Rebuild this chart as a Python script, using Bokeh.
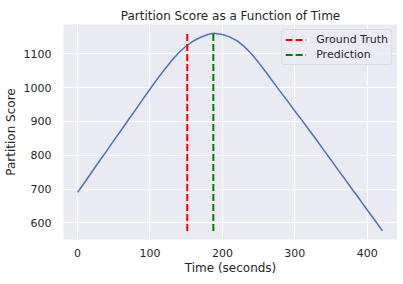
from bokeh.plotting import figure
from bokeh.models import Range1d, FixedTicker
from bokeh.embed import file_html
from bokeh.resources import INLINE

# ---- data ----
time_s = [0, 10, 20, 30, 40, 50, 60, 70, 80, 90, 100, 110, 120, 130, 140, 150,
          160, 170, 180, 188, 200, 210, 220, 230, 240, 250, 260, 270, 280, 290,
          300, 310, 320, 330, 340, 350, 360, 370, 380, 390, 400, 410, 421]
score = [690, 720, 751, 782, 812, 843, 873, 904, 934, 965, 995, 1025, 1053, 1080,
         1104, 1123, 1138, 1149, 1157, 1161, 1157, 1150, 1139, 1122, 1100, 1074,
         1046, 1017, 988, 960, 931, 903, 874, 845, 815, 786, 756, 727, 697, 668,
         638, 609, 576]
ground_truth_time = 151.5
prediction_time = 187.5

x_ticks = [0, 100, 200, 300, 400]
y_ticks = [600, 700, 800, 900, 1000, 1100]

title_text = "Partition Score as a Function of Time"
x_label = "Time (seconds)"
y_label = "Partition Score"

TEXT = "#262626"
FONT = "DejaVu Sans"

p = figure(frame_width=334, frame_height=215,
           output_backend="svg", toolbar_location=None,
           x_range=Range1d(-19.4, 441.8), y_range=Range1d(550.6, 1186.7),
           min_border_left=63, min_border_top=24, min_border_right=0,
           min_border_bottom=0, title=title_text)

p.background_fill_color = "#EAEAF2"
p.border_fill_color = "white"
p.outline_line_color = None

p.title.text_font = FONT
p.title.text_font_size = "12px"
p.title.text_font_style = "normal"
p.title.text_color = TEXT
p.title.align = "center"
p.title.standoff = 4

p.xaxis.ticker = FixedTicker(ticks=x_ticks)
p.yaxis.ticker = FixedTicker(ticks=y_ticks)
for ax in (p.xaxis, p.yaxis):
    ax.axis_line_color = None
    ax.major_tick_line_color = None
    ax.minor_tick_line_color = None
    ax.major_tick_out = 0
    ax.major_tick_in = 0
    ax.major_label_text_font = FONT
    ax.major_label_text_font_size = "11px"
    ax.major_label_text_color = TEXT
    ax.axis_label_text_font = FONT
    ax.axis_label_text_font_size = "12px"
    ax.axis_label_text_font_style = "normal"
    ax.axis_label_text_color = TEXT
p.xaxis.axis_label = x_label
p.yaxis.axis_label = y_label
p.xaxis.major_label_standoff = 9
p.yaxis.major_label_standoff = 12
p.xaxis.axis_label_standoff = 1
p.yaxis.axis_label_standoff = 3

p.grid.grid_line_color = "white"
p.grid.grid_line_width = 1

p.line(time_s, score, line_color="#4C72B0", line_width=1.5)

y_lo, y_hi = min(score), max(score)
p.line([ground_truth_time, ground_truth_time], [y_lo, y_hi], line_color="#FF0000",
       line_width=2, line_dash="7 3", legend_label="Ground Truth")
p.line([prediction_time, prediction_time], [y_lo, y_hi], line_color="#008000",
       line_width=2, line_dash="7 3", legend_label="Prediction")

lg = p.legend[0]
lg.location = "top_right"
lg.margin = 5
lg.padding = 3
lg.spacing = 2
lg.label_height = 13
lg.glyph_height = 13
lg.glyph_width = 21
lg.label_standoff = 10
lg.background_fill_color = "#EAEAF2"
lg.background_fill_alpha = 0.8
lg.border_line_color = "#CCCCCC"
lg.border_line_width = 1
lg.border_radius = 3
lg.label_text_font = FONT
lg.label_text_font_size = "11px"
lg.label_text_color = TEXT

open("out.html", "w").write(file_html(p, INLINE))
